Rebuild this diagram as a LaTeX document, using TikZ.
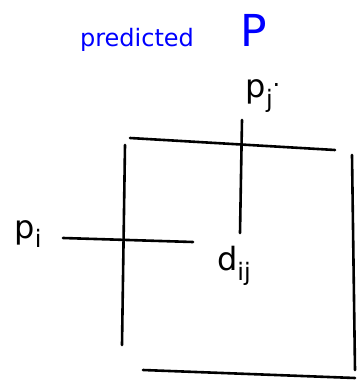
\documentclass[tikz,border=0pt]{standalone}
\usepackage{fontspec}
\setmainfont{DejaVu Sans}
\newcommand{\mysub}[1]{\raisebox{-0.3em}{\fontsize{24}{26}\selectfont #1}}
\begin{document}
\begin{tikzpicture}[x=1pt,y=-1pt,
  stroke/.style={line width=2.6pt,line cap=round,black},
  bluetxt/.style={text=blue,font=\fontsize{24}{28}\selectfont},
  blacktxt/.style={text=black,font=\fontsize{32}{36}\selectfont,inner sep=0pt}]
\useasboundingbox (0,0) rectangle (361,383);
% labels
\node[bluetxt] (pred) at (137,40) {predicted};
\node[bluetxt,font=\fontsize{44}{48}\selectfont] (P) at (254,30) {P};
\node[blacktxt] (pj) at (263,96) {p\mysub{j}\raisebox{0.35em}{\fontsize{24}{26}\selectfont.}};
\node[blacktxt] (pi) at (28,234) {p\mysub{i}};
\node[blacktxt] (dij) at (234,266) {d\mysub{ij}};
% coordinates of strokes
\coordinate (tl) at (130,138);
\coordinate (tr) at (335,150);
\coordinate (lt) at (125,145);
\coordinate (lb) at (122,345);
\coordinate (rt) at (352,155);
\coordinate (rb) at (355,370);
\coordinate (bl) at (143,370);
\coordinate (br) at (355,378);
\coordinate (jt) at (242,120);
\coordinate (jb) at (240,233);
\coordinate (il) at (63,238);
\coordinate (ir) at (193,242);
% matrix frame
\draw[stroke] (tl) -- (tr);
\draw[stroke] (lt) -- (lb);
\draw[stroke] (rt) -- (rb);
\draw[stroke] (bl) -- (br);
% row and column lines
\draw[stroke] (jt) -- (jb);
\draw[stroke] (il) -- (ir);
\end{tikzpicture}
\end{document}
